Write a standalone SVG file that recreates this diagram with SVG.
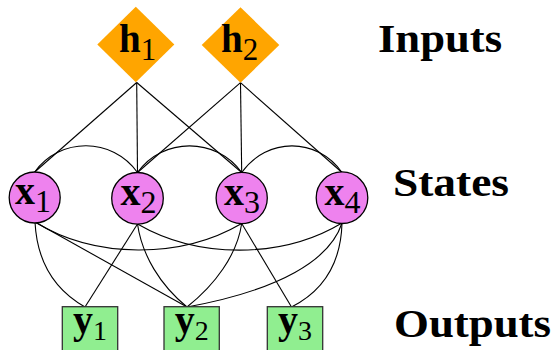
<svg xmlns="http://www.w3.org/2000/svg" width="556" height="350" viewBox="0 0 556 350">
<style>
.edge{fill:none;stroke:#000;stroke-width:1.1}
.inp{fill:#FFA500;stroke:none}
.st{fill:#EE82EE;stroke:#000;stroke-width:1.3}
.out{fill:#90EE90;stroke:#333;stroke-width:1.3}
.lbl{font-family:"Liberation Serif",serif;fill:#000}
.m{font-weight:bold}
.s{font-weight:normal}
.side{font-family:"Liberation Serif",serif;font-weight:bold;font-size:41px;fill:#000}
</style>
<rect width="556" height="350" fill="#fff"/>
<g id="connectors">
<path class="edge" d="M136.7,82.5 L34.7,172"/>
<path class="edge" d="M136.7,82.5 L137.5,172.5"/>
<path class="edge" d="M136.7,82.5 L241.7,172.5"/>
<path class="edge" d="M240.5,82.7 L137.5,172.5"/>
<path class="edge" d="M240.5,82.7 L241.7,172.5"/>
<path class="edge" d="M240.5,82.7 L342,172.5"/>
<path class="edge" d="M34.7,172 C60,137 112,137 137.5,172.5"/>
<path class="edge" d="M137.5,172.5 C163,137 216,137 241.7,172.5"/>
<path class="edge" d="M241.7,172.5 C267,137 317,137 342,172.5"/>
<path class="edge" d="M35,222 C95,259 181,259 241.7,223.5"/>
<path class="edge" d="M137.5,224 C198,259 282,259 342,223"/>
<path class="edge" d="M35,222 C37,262 55,290 85,307"/>
<path class="edge" d="M137.5,224 L85,307"/>
<path class="edge" d="M35,222 L187,307"/>
<path class="edge" d="M137.5,224 C142,255 160,285 187,307"/>
<path class="edge" d="M241.7,223.5 C237,255 215,285 187,307"/>
<path class="edge" d="M241.7,223.5 L291.5,307"/>
<path class="edge" d="M342,223 C330,260 280,290 187,307"/>
<path class="edge" d="M342,223 C341,262 325,290 291.5,307"/>
</g>
<g id="h1">
<polygon class="inp" points="135.8,6.7 174.3,44.5 135.8,82.3 97.3,44.5"/>
<text class="lbl" x="137.7" y="51.7" text-anchor="middle"><tspan class="m" font-size="39">h</tspan><tspan class="s" font-size="31" dy="8">1</tspan></text>
</g>
<g id="h2">
<polygon class="inp" points="240.5,7.3 279.3,45 240.5,82.7 201.7,45"/>
<text class="lbl" x="239.7" y="51.7" text-anchor="middle"><tspan class="m" font-size="39">h</tspan><tspan class="s" font-size="31" dy="8">2</tspan></text>
</g>
<g id="x1">
<circle class="st" cx="34.7" cy="197.5" r="25.5"/>
<text class="lbl" x="33" y="204" text-anchor="middle"><tspan class="m" font-size="40">x</tspan><tspan class="s" font-size="32" dy="8">1</tspan></text>
</g>
<g id="x2">
<circle class="st" cx="137.5" cy="198.3" r="25.8"/>
<text class="lbl" x="138.5" y="205" text-anchor="middle"><tspan class="m" font-size="40">x</tspan><tspan class="s" font-size="32" dy="8">2</tspan></text>
</g>
<g id="x3">
<circle class="st" cx="241.7" cy="198" r="25.6"/>
<text class="lbl" x="242" y="205" text-anchor="middle"><tspan class="m" font-size="40">x</tspan><tspan class="s" font-size="32" dy="8">3</tspan></text>
</g>
<g id="x4">
<circle class="st" cx="342" cy="197.7" r="25.8"/>
<text class="lbl" x="342.5" y="204.5" text-anchor="middle"><tspan class="m" font-size="40">x</tspan><tspan class="s" font-size="32" dy="8">4</tspan></text>
</g>
<g id="y1">
<rect class="out" x="62.3" y="306.7" width="55.4" height="44"/>
<text class="lbl" x="90" y="333" text-anchor="middle"><tspan class="m" font-size="40">y</tspan><tspan class="s" font-size="28" dy="6.5">1</tspan></text>
</g>
<g id="y2">
<rect class="out" x="164" y="306.7" width="55.3" height="44"/>
<text class="lbl" x="191.7" y="333" text-anchor="middle"><tspan class="m" font-size="40">y</tspan><tspan class="s" font-size="28" dy="6.5">2</tspan></text>
</g>
<g id="y3">
<rect class="out" x="267.3" y="306.7" width="55.4" height="44"/>
<text class="lbl" x="295" y="333" text-anchor="middle"><tspan class="m" font-size="40">y</tspan><tspan class="s" font-size="28" dy="6.5">3</tspan></text>
</g>
<g id="labels">
<text class="side" x="378" y="52" textLength="124" lengthAdjust="spacingAndGlyphs">Inputs</text>
<text class="side" x="393" y="195.5" textLength="116" lengthAdjust="spacingAndGlyphs">States</text>
<text class="side" x="394" y="336.5" textLength="157" lengthAdjust="spacingAndGlyphs">Outputs</text>
</g>
</svg>
